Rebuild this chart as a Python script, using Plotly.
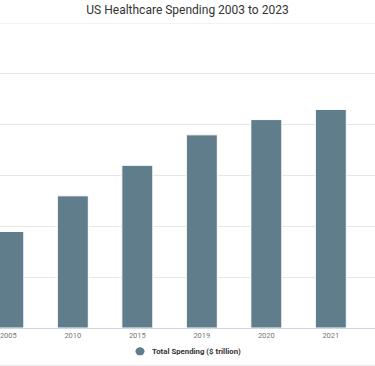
import plotly.graph_objects as go

years = ["2005", "2010", "2015", "2019", "2020", "2021"]
spending = [1.9, 2.6, 3.2, 3.8, 4.1, 4.3]
series_name = "Total Spending ($ trillion)"

W, H = 375, 366
top, bottom = 23, 327.7
ph = bottom - top

x = list(range(len(years)))
bar_color = "#607d8b"

fig = go.Figure()
fig.add_trace(go.Bar(
    x=x, y=spending, width=0.48,
    marker=dict(color=bar_color, line=dict(color="#ffffff", width=1)),
    showlegend=False, name=series_name,
))

def py(px):
    return (bottom - px) / ph

# bottom container border line
fig.add_shape(type="line", xref="paper", yref="paper",
              x0=0, x1=1, y0=py(365), y1=py(365),
              line=dict(color="#e6e6e6", width=1))
# top gridline (value 6)
fig.add_shape(type="line", xref="paper", yref="y",
              x0=0, x1=1, y0=6, y1=6,
              line=dict(color="#e6e6e6", width=1), layer="below")
# legend marker
fig.add_shape(type="circle", xref="paper", yref="paper",
              x0=(140 - 4.5) / W, x1=(140 + 4.5) / W,
              y0=py(351 + 4), y1=py(351 - 4),
              fillcolor=bar_color, line=dict(width=0))
fig.add_annotation(text="<b>" + series_name + "</b>", xref="paper", yref="paper",
                   x=150 / W, y=py(351), xanchor="left", yanchor="middle",
                   showarrow=False, font=dict(size=7.8, color="#333333"))

fig.update_layout(
    width=W, height=H,
    margin=dict(l=0, r=0, t=top, b=H - bottom, autoexpand=False),
    paper_bgcolor="white", plot_bgcolor="white",
    font=dict(family="Roboto, Arial, sans-serif"),
    title=dict(text="US Healthcare Spending 2003 to 2023",
               x=0.5, xanchor="center", y=1 - 10 / H, yanchor="middle",
               font=dict(size=12, color="#333333")),
    xaxis=dict(range=[-0.129, 5.685], tickmode="array", tickvals=x,
               ticktext=years, showgrid=False, zeroline=False,
               showline=True, linecolor="#ccd6eb", linewidth=1,
               ticks="", tickfont=dict(size=7.5, color="#777777"),
               automargin=False, ticklabeloverflow="allow"),
    yaxis=dict(range=[0, 6], dtick=1, showgrid=True, gridcolor="#e6e6e6",
               gridwidth=1, zeroline=False, showticklabels=False,
               automargin=False),
    showlegend=False,
)

fig.write_html("out.html",
               config={"displayModeBar": False},
               post_script="document.body.style.margin='0';document.body.style.overflow='hidden';")
